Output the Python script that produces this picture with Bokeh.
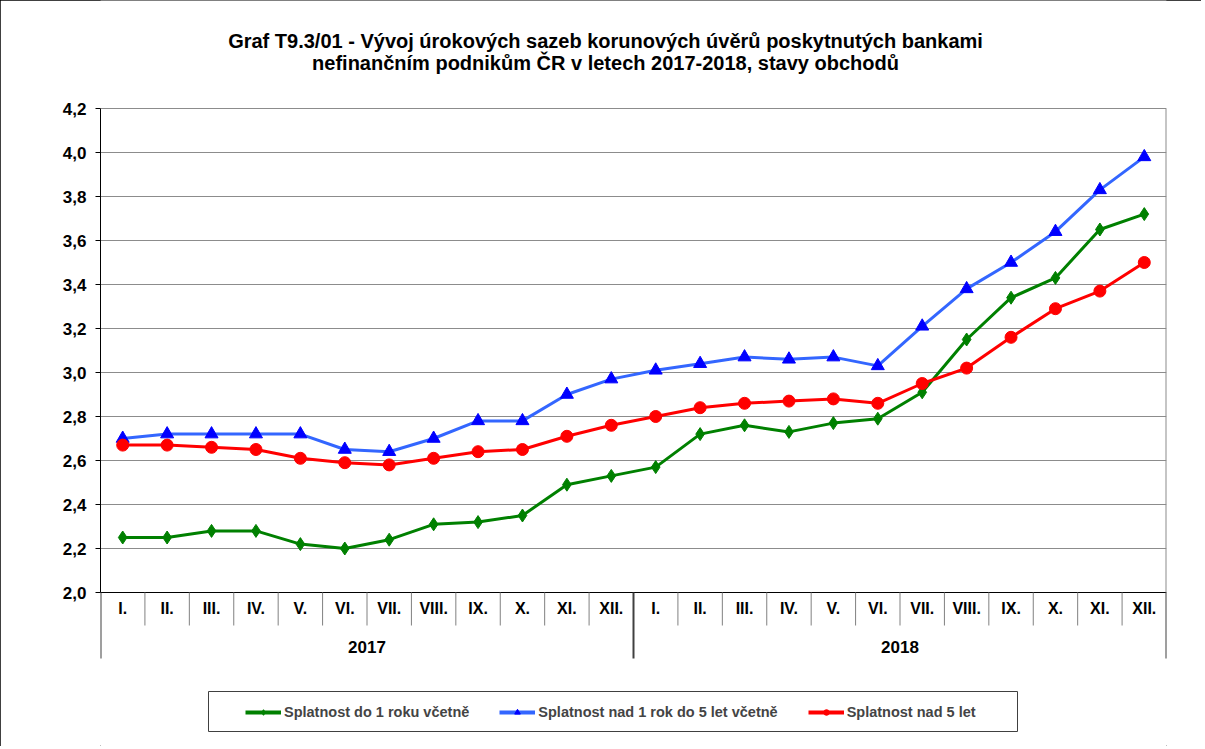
from bokeh.plotting import figure
from bokeh.models import (Range1d, FixedTicker, CustomJSTickFormatter, Legend,
                          LegendItem, Label, ColumnDataSource)
from bokeh.core.properties import value
from bokeh.embed import file_html
from bokeh.resources import INLINE

# ---------------- data ----------------
title_lines = [
    "Graf T9.3/01 - Vývoj úrokových sazeb korunových úvěrů poskytnutých bankami",
    "nefinančním podnikům ČR v letech 2017-2018, stavy obchodů",
]
years = ["2017", "2018"]
months = ["I.", "II.", "III.", "IV.", "V.", "VI.", "VII.", "VIII.", "IX.", "X.", "XI.", "XII."]
y_ticks = [2.0, 2.2, 2.4, 2.6, 2.8, 3.0, 3.2, 3.4, 3.6, 3.8, 4.0, 4.2]
y_unit = "%"
series_names = [
    "Splatnost do 1 roku včetně",
    "Splatnost nad 1 rok do 5 let včetně",
    "Splatnost nad 5 let",
]
short_term = [2.25, 2.25, 2.28, 2.28, 2.22, 2.20, 2.24, 2.31, 2.32, 2.35, 2.49, 2.53,
              2.57, 2.72, 2.76, 2.73, 2.77, 2.79, 2.91, 3.15, 3.34, 3.43, 3.65, 3.72]
mid_term = [2.70, 2.72, 2.72, 2.72, 2.72, 2.65, 2.64, 2.70, 2.78, 2.78, 2.90, 2.97,
            3.01, 3.04, 3.07, 3.06, 3.07, 3.03, 3.21, 3.38, 3.50, 3.64, 3.83, 3.98]
long_term = [2.67, 2.67, 2.66, 2.65, 2.61, 2.59, 2.58, 2.61, 2.64, 2.65, 2.71, 2.76,
             2.80, 2.84, 2.86, 2.87, 2.88, 2.86, 2.95, 3.02, 3.16, 3.29, 3.37, 3.50]

# ---------------- styles / layout ----------------
FONT = "Liberation Sans"
GREEN = "#008000"
BLUE_LINE = "#3366ff"
BLUE_MARK = "#0000ff"
RED = "#ff0000"
GRID = "#8c8c8c"

W, H = 1201, 746
FRAME_L, FRAME_R = 100, 1166      # plot-area pixel edges
Y_TOP_PX, Y_BOT_PX = 108, 592     # pixel rows of top and bottom tick

n_m = len(months)
n = n_m * len(years)
xs = [i + 0.5 for i in range(n)]
month_labels = months * len(years)
y_min, y_max = y_ticks[0], y_ticks[-1]

PX = (Y_BOT_PX - Y_TOP_PX) / (y_max - y_min)   # pixels per unit on y
UX = (FRAME_R - FRAME_L) / n                    # pixels per category


def ypx(py):
    return y_min + (Y_BOT_PX - py) / PX


def xpx(px):
    return (px - FRAME_L) / UX


p = figure(width=W, height=H,
           x_range=Range1d(0, n),
           y_range=Range1d(ypx(H), ypx(0)),
           output_backend="svg", toolbar_location=None, x_axis_location=None,
           title=None,
           min_border_left=FRAME_L, min_border_right=W - FRAME_R,
           min_border_top=0, min_border_bottom=0)
p.outline_line_color = None
p.background_fill_color = "white"
p.border_fill_color = "white"
p.styles = {"outline": "1px solid #000000", "outline-offset": "-1px"}

ax = p.yaxis[0]
ax.ticker = FixedTicker(ticks=y_ticks)
ax.bounds = (y_min, y_max)
ax.formatter = CustomJSTickFormatter(code="return tick.toFixed(1).replace('.', ',');")
ax.major_label_text_font = FONT
ax.major_label_text_font_style = "bold"
ax.major_label_text_font_size = "17px"
ax.major_label_text_color = "black"
ax.major_tick_out = 5
ax.major_tick_in = 0
ax.minor_tick_out = 0
ax.minor_tick_in = 0
ax.axis_line_color = "black"
ax.major_tick_line_color = "black"
ax.major_label_standoff = 9

p.ygrid.ticker = FixedTicker(ticks=y_ticks)
p.ygrid.grid_line_color = GRID
p.ygrid.grid_line_width = 1
p.xgrid.visible = False

# title
tx = xpx(605)
p.text(x=[tx, tx], y=[ypx(40), ypx(62)], text=title_lines,
       text_font=value(FONT), text_font_style="bold", text_font_size="20px",
       text_align="center", text_baseline="middle", text_color="black")

# "%" label
p.add_layout(Label(x=xpx(37), y=ypx(357), text=y_unit,
                   text_font=FONT, text_font_style="bold", text_font_size="17px",
                   text_align="center", text_baseline="middle"))

# category axis drawn in the frame
p.segment(x0=[0], y0=[y_min], x1=[n], y1=[y_min], line_color="black", line_width=1)
p.segment(x0=[n], y0=[y_min], x1=[n], y1=[y_max], line_color=GRID, line_width=2)
short_x = [i for i in range(1, n) if i % n_m != 0]
p.segment(x0=short_x, y0=[y_min] * len(short_x), x1=short_x,
          y1=[ypx(625)] * len(short_x), line_color="#808080", line_width=1)
long_x = [i * n_m for i in range(len(years) + 1)]
p.segment(x0=long_x, y0=[y_min] * len(long_x), x1=long_x,
          y1=[ypx(658)] * len(long_x), line_color="#404040", line_width=2)
p.text(x=xs, y=[ypx(608)] * n, text=month_labels,
       text_font=value(FONT), text_font_style="bold", text_font_size="16px",
       text_align="center", text_baseline="middle", text_color="black")
p.text(x=[i * n_m + n_m / 2 for i in range(len(years))], y=[ypx(646)] * len(years),
       text=years, text_font=value(FONT), text_font_style="bold", text_font_size="17px",
       text_align="center", text_baseline="middle", text_color="black")

# series
p.line(xs, short_term, line_color=GREEN, line_width=3)
p.scatter(xs, short_term, marker="diamond", size=13, color=GREEN)
p.line(xs, mid_term, line_color=BLUE_LINE, line_width=3)
p.scatter(xs, mid_term, marker="triangle", size=13, color=BLUE_MARK)
p.line(xs, long_term, line_color=RED, line_width=3)
p.scatter(xs, long_term, marker="circle", size=12, color=RED)

# legend frame
p.quad(left=[xpx(208)], right=[xpx(1017)], top=[ypx(691)], bottom=[ypx(731)],
       fill_color="white", line_color="#404040", line_width=1)

# legend-only renderers (placed outside the visible ranges)
off = ColumnDataSource(dict(x=[-100, -99], y=[-100, -100]))
items = []
for name, lc, mc, mk in zip(series_names, [GREEN, BLUE_LINE, RED],
                            [GREEN, BLUE_MARK, RED], ["diamond", "triangle", "circle"]):
    lr = p.line("x", "y", source=off, line_color=lc, line_width=4)
    mr = p.scatter("x", "y", source=off, marker=mk, size=7, color=mc)
    items.append(LegendItem(label=name, renderers=[lr, mr]))

legend = Legend(items=items, orientation="horizontal", location=(145, H - 720),
                border_line_color=None, background_fill_alpha=0,
                label_text_font=FONT, label_text_font_style="bold",
                label_text_font_size="14.5px", glyph_width=36, glyph_height=14,
                label_standoff=3, spacing=30, padding=0, margin=0)
p.add_layout(legend, "center")

open("out.html", "w").write(file_html(p, INLINE))
